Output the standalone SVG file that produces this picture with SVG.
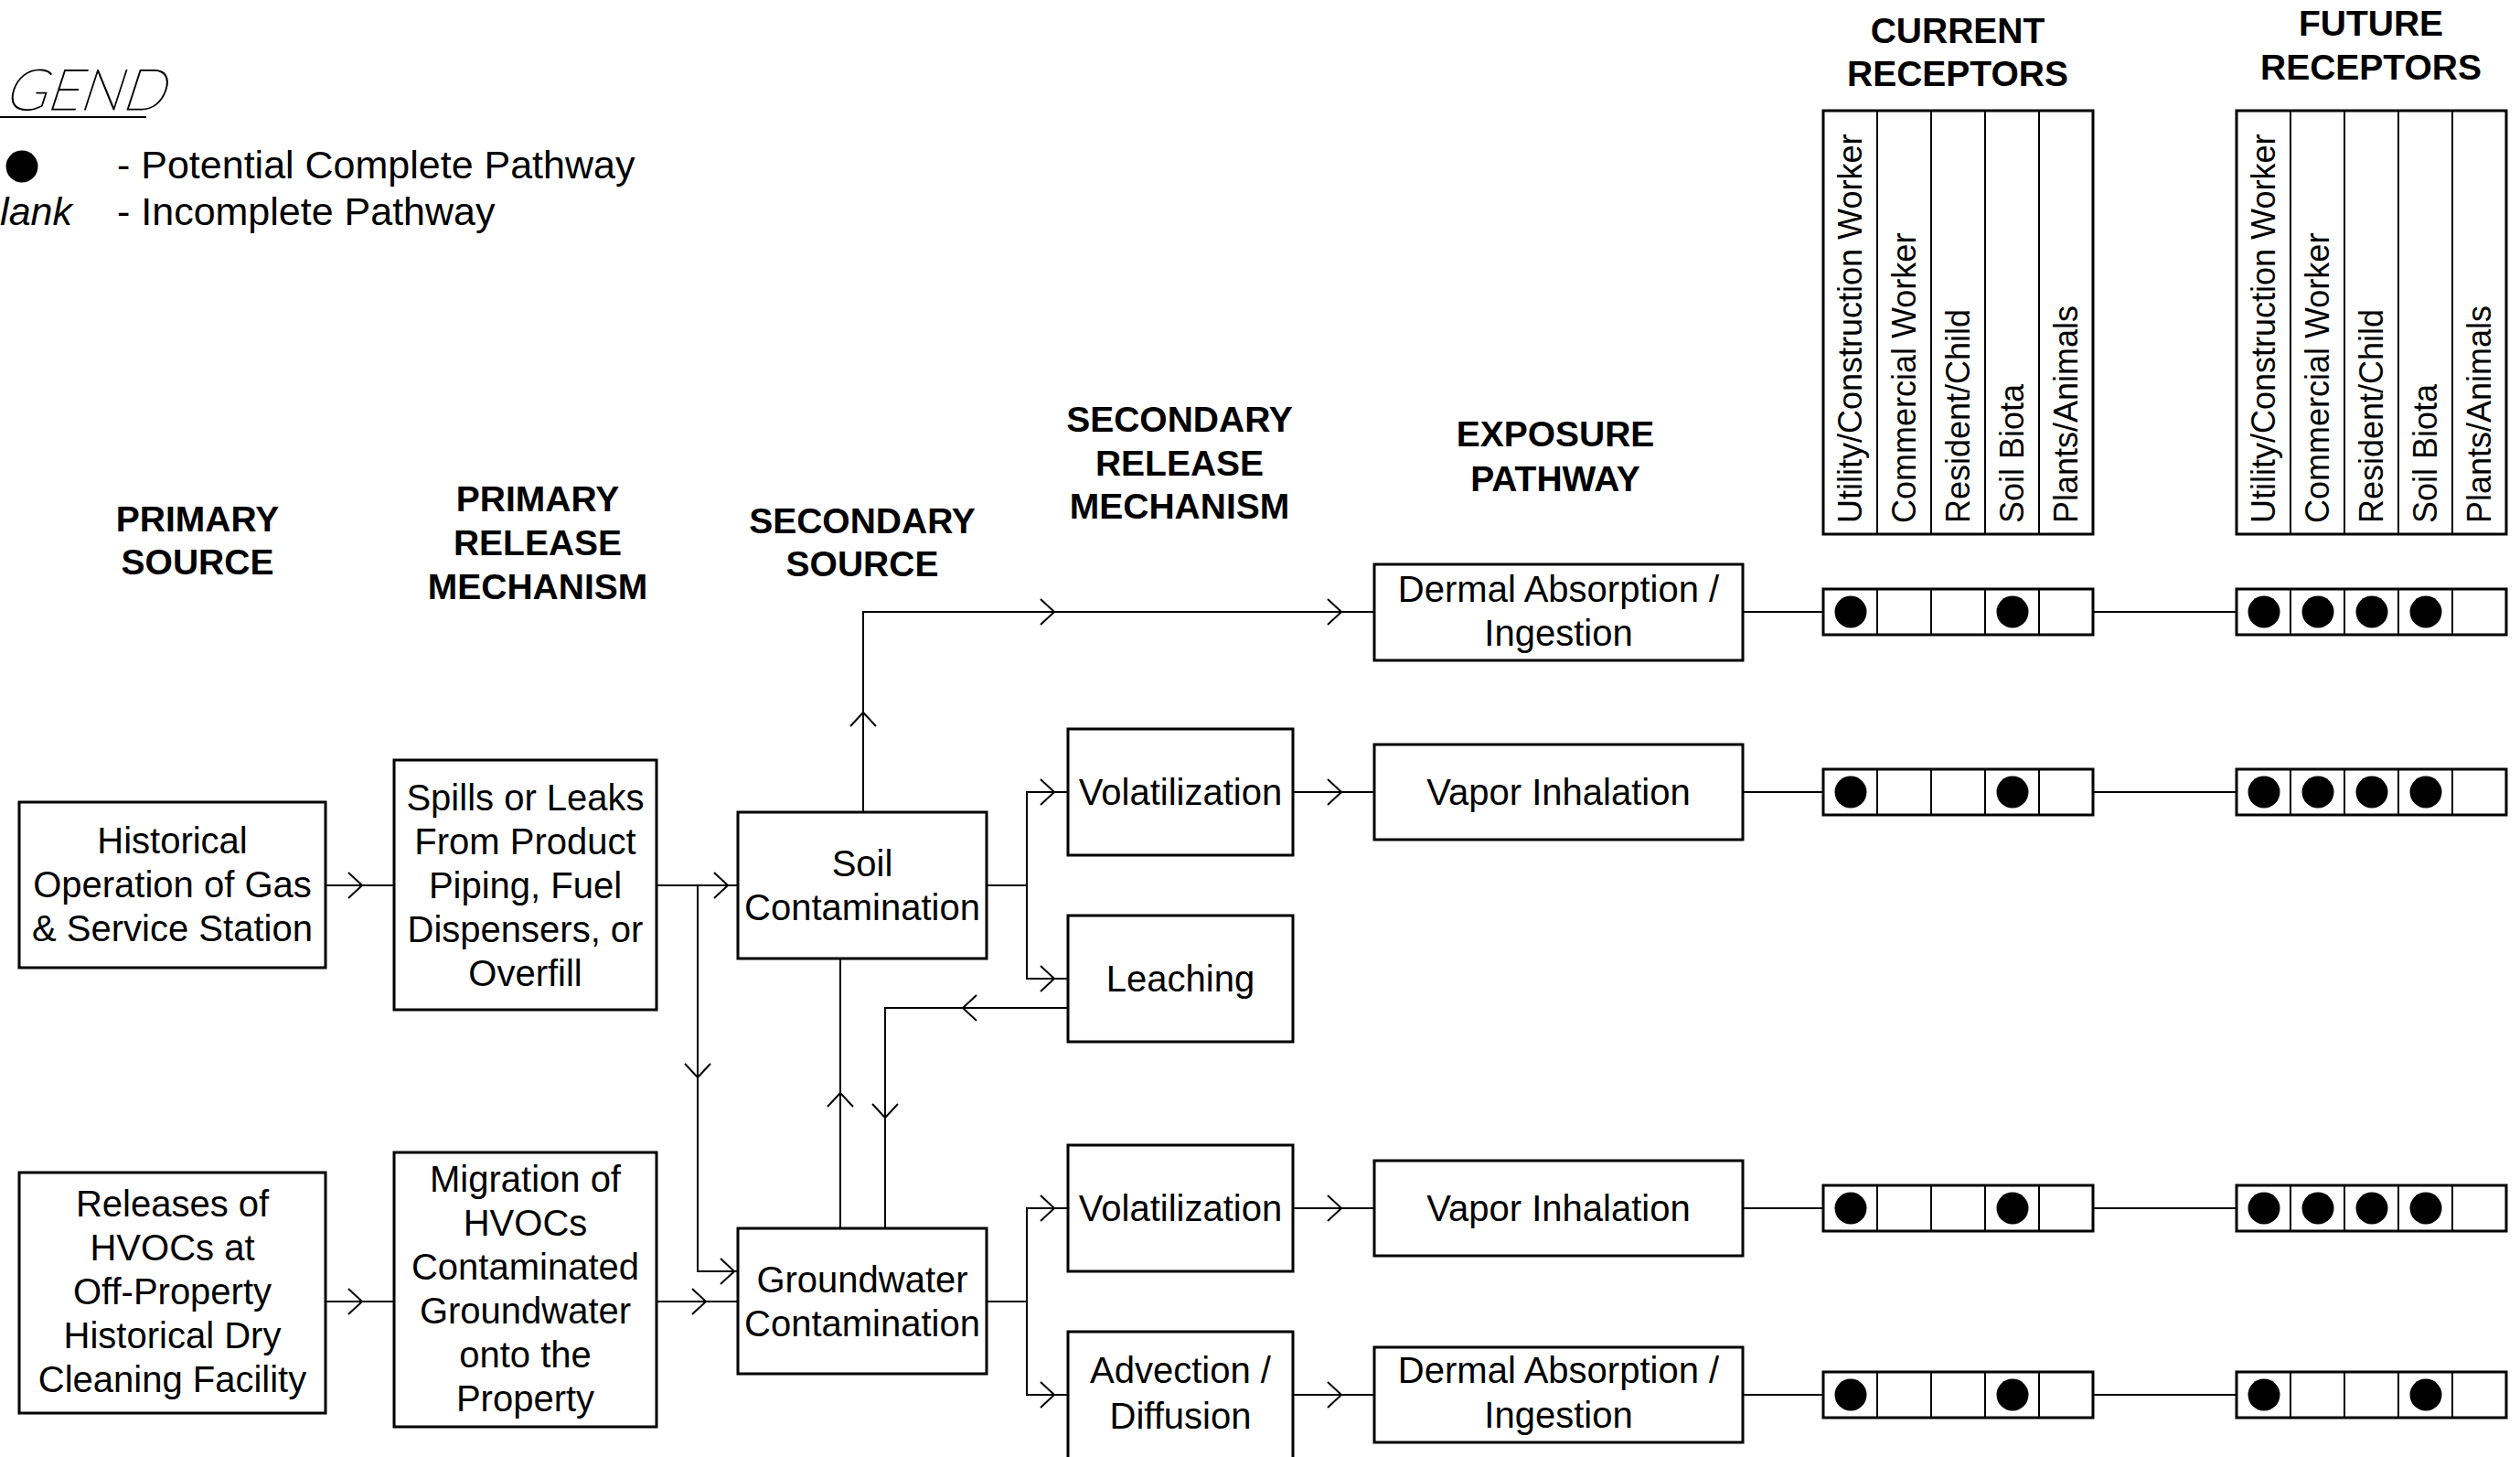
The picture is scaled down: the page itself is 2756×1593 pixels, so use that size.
<svg xmlns="http://www.w3.org/2000/svg" xmlns:xlink="http://www.w3.org/1999/xlink" width="2756" height="1593" viewBox="0 0 2756 1593">
<style>
.box{fill:#fff;stroke:#000;stroke-width:3}
.ln{fill:none;stroke:#000;stroke-width:2}
.rb{fill:#fff;stroke:#000;stroke-width:3}
.dv{stroke:#000;stroke-width:2}
.t{font-family:"Liberation Sans",Arial,sans-serif;font-size:40px;text-anchor:middle;fill:#000}
.h{font-family:"Liberation Sans",Arial,sans-serif;font-size:39px;font-weight:bold;text-anchor:middle;fill:#000}
.r{font-family:"Liberation Sans",Arial,sans-serif;font-size:36px;fill:#000}
.lg{font-family:"Liberation Sans",Arial,sans-serif;font-size:43px;fill:#000}
.dot{fill:#000}
</style>
<defs>
<path id="ch" d="M-15,-14 L0,0 L-15,14" fill="none" stroke="#000" stroke-width="2"/>
</defs>
<rect width="2756" height="1593" fill="#fff"/>

<g id="legend">
<text x="218" y="120" text-anchor="end" transform="skewX(-18)" style="font-family:Lato,Roboto,'DejaVu Sans',sans-serif;font-weight:100;font-size:62px;fill:#000;stroke:#000;stroke-width:1.2">GEND</text>
<line x1="0" y1="128" x2="160" y2="128" stroke="#000" stroke-width="2"/>
<circle class="dot" cx="24" cy="182" r="17.5"/>
<text class="lg" x="79" y="246" text-anchor="end" font-style="italic">lank</text>
<text class="lg" x="128" y="195">- Potential Complete Pathway</text>
<text class="lg" x="128" y="246">- Incomplete Pathway</text>
</g>

<g id="headers">
<text class="h"><tspan x="216" y="581">PRIMARY</tspan><tspan x="216" y="628">SOURCE</tspan></text>
<text class="h"><tspan x="588" y="559">PRIMARY</tspan><tspan x="588" y="607">RELEASE</tspan><tspan x="588" y="655">MECHANISM</tspan></text>
<text class="h"><tspan x="943" y="583">SECONDARY</tspan><tspan x="943" y="630">SOURCE</tspan></text>
<text class="h"><tspan x="1290" y="472">SECONDARY</tspan><tspan x="1290" y="520">RELEASE</tspan><tspan x="1290" y="567">MECHANISM</tspan></text>
<text class="h"><tspan x="1701" y="488">EXPOSURE</tspan><tspan x="1701" y="537">PATHWAY</tspan></text>
<text class="h"><tspan x="2141" y="47">CURRENT</tspan><tspan x="2141" y="94">RECEPTORS</tspan></text>
<text class="h"><tspan x="2593" y="39">FUTURE</tspan><tspan x="2593" y="87">RECEPTORS</tspan></text>
</g>

<g id="connectors">
<path class="ln" d="M356,968 H431"/><use xlink:href="#ch" href="#ch" transform="translate(396,968)"/>
<path class="ln" d="M718,968 H807"/><use xlink:href="#ch" href="#ch" transform="translate(796,968)"/>
<path class="ln" d="M763,968 V1390 H807"/><use xlink:href="#ch" href="#ch" transform="translate(763,1178) rotate(90)"/><use xlink:href="#ch" href="#ch" transform="translate(803,1390)"/>
<path class="ln" d="M356,1423 H431"/><use xlink:href="#ch" href="#ch" transform="translate(396,1423)"/>
<path class="ln" d="M718,1423 H807"/><use xlink:href="#ch" href="#ch" transform="translate(772,1423)"/>
<path class="ln" d="M944,888 V669 H1503"/><use xlink:href="#ch" href="#ch" transform="translate(944,779) rotate(-90)"/><use xlink:href="#ch" href="#ch" transform="translate(1153,669)"/><use xlink:href="#ch" href="#ch" transform="translate(1467,669)"/>
<path class="ln" d="M1079,968 H1123"/><path class="ln" d="M1168,866 H1123 V1070 H1168"/>
<use xlink:href="#ch" href="#ch" transform="translate(1153,866)"/><use xlink:href="#ch" href="#ch" transform="translate(1153,1070)"/>
<path class="ln" d="M1414,866 H1503"/><use xlink:href="#ch" href="#ch" transform="translate(1467,866)"/>
<path class="ln" d="M1168,1102 H968 V1343"/><use xlink:href="#ch" href="#ch" transform="translate(1053,1102) rotate(180)"/><use xlink:href="#ch" href="#ch" transform="translate(968,1222) rotate(90)"/>
<path class="ln" d="M919,1343 V1048"/><use xlink:href="#ch" href="#ch" transform="translate(919,1195) rotate(-90)"/>
<path class="ln" d="M1079,1423 H1123"/><path class="ln" d="M1168,1321 H1123 V1525 H1168"/>
<use xlink:href="#ch" href="#ch" transform="translate(1153,1321)"/><use xlink:href="#ch" href="#ch" transform="translate(1153,1525)"/>
<path class="ln" d="M1414,1321 H1503"/><use xlink:href="#ch" href="#ch" transform="translate(1467,1321)"/>
<path class="ln" d="M1414,1525 H1503"/><use xlink:href="#ch" href="#ch" transform="translate(1467,1525)"/>
<path class="ln" d="M1906,669 H1994 M2289,669 H2446"/>
<path class="ln" d="M1906,866 H1994 M2289,866 H2446"/>
<path class="ln" d="M1906,1321 H1994 M2289,1321 H2446"/>
<path class="ln" d="M1906,1525 H1994 M2289,1525 H2446"/>
</g>

<g id="n-historical"><rect class="box" x="21" y="877" width="335" height="181"/>
<text class="t"><tspan x="188.5" y="933">Historical</tspan><tspan x="188.5" y="981">Operation of Gas</tspan><tspan x="188.5" y="1029">&amp; Service Station</tspan></text></g>
<g id="n-spills"><rect class="box" x="431" y="831" width="287" height="273"/>
<text class="t"><tspan x="574.5" y="886">Spills or Leaks</tspan><tspan x="574.5" y="934">From Product</tspan><tspan x="574.5" y="982">Piping, Fuel</tspan><tspan x="574.5" y="1030">Dispensers, or</tspan><tspan x="574.5" y="1078">Overfill</tspan></text></g>
<g id="n-soil"><rect class="box" x="807" y="888" width="272" height="160"/>
<text class="t"><tspan x="943" y="958">Soil</tspan><tspan x="943" y="1006">Contamination</tspan></text></g>
<g id="n-releases"><rect class="box" x="21" y="1282" width="335" height="263"/>
<text class="t"><tspan x="188.5" y="1330">Releases of</tspan><tspan x="188.5" y="1378">HVOCs at</tspan><tspan x="188.5" y="1426">Off-Property</tspan><tspan x="188.5" y="1474">Historical Dry</tspan><tspan x="188.5" y="1522">Cleaning Facility</tspan></text></g>
<g id="n-migration"><rect class="box" x="431" y="1260" width="287" height="300"/>
<text class="t"><tspan x="574.5" y="1303">Migration of</tspan><tspan x="574.5" y="1351">HVOCs</tspan><tspan x="574.5" y="1399">Contaminated</tspan><tspan x="574.5" y="1447">Groundwater</tspan><tspan x="574.5" y="1495">onto the</tspan><tspan x="574.5" y="1543">Property</tspan></text></g>
<g id="n-gw"><rect class="box" x="807" y="1343" width="272" height="159"/>
<text class="t"><tspan x="943" y="1413">Groundwater</tspan><tspan x="943" y="1461">Contamination</tspan></text></g>
<g id="n-volat1"><rect class="box" x="1168" y="797" width="246" height="138"/>
<text class="t" x="1291" y="880">Volatilization</text></g>
<g id="n-leaching"><rect class="box" x="1168" y="1001" width="246" height="138"/>
<text class="t" x="1291" y="1084">Leaching</text></g>
<g id="n-volat2"><rect class="box" x="1168" y="1252" width="246" height="138"/>
<text class="t" x="1291" y="1335">Volatilization</text></g>
<g id="n-advection"><rect class="box" x="1168" y="1456" width="246" height="200"/>
<text class="t"><tspan x="1291" y="1512">Advection /</tspan><tspan x="1291" y="1562">Diffusion</tspan></text></g>
<g id="n-dermal1"><rect class="box" x="1503" y="617" width="403" height="105"/>
<text class="t"><tspan x="1704.5" y="658">Dermal Absorption /</tspan><tspan x="1704.5" y="706">Ingestion</tspan></text></g>
<g id="n-vapor1"><rect class="box" x="1503" y="814" width="403" height="104"/>
<text class="t" x="1704.5" y="880">Vapor Inhalation</text></g>
<g id="n-vapor2"><rect class="box" x="1503" y="1269" width="403" height="104"/>
<text class="t" x="1704.5" y="1335">Vapor Inhalation</text></g>
<g id="n-dermal2"><rect class="box" x="1503" y="1473" width="403" height="104"/>
<text class="t"><tspan x="1704.5" y="1512">Dermal Absorption /</tspan><tspan x="1704.5" y="1561">Ingestion</tspan></text></g>

<g id="current-receptors">
<rect class="rb" x="1994" y="121" width="295" height="463"/>
<path class="dv" d="M2053,121 V584 M2112,121 V584 M2171,121 V584 M2230,121 V584"/>
<text class="r" transform="translate(2036,572) rotate(-90)">Utility/Construction Worker</text>
<text class="r" transform="translate(2095,572) rotate(-90)">Commercial Worker</text>
<text class="r" transform="translate(2154,572) rotate(-90)">Resident/Child</text>
<text class="r" transform="translate(2213,572) rotate(-90)">Soil Biota</text>
<text class="r" transform="translate(2272,572) rotate(-90)">Plants/Animals</text>
</g>
<g id="future-receptors">
<rect class="rb" x="2446" y="121" width="295" height="463"/>
<path class="dv" d="M2505,121 V584 M2564,121 V584 M2623,121 V584 M2682,121 V584"/>
<text class="r" transform="translate(2488,572) rotate(-90)">Utility/Construction Worker</text>
<text class="r" transform="translate(2547,572) rotate(-90)">Commercial Worker</text>
<text class="r" transform="translate(2606,572) rotate(-90)">Resident/Child</text>
<text class="r" transform="translate(2665,572) rotate(-90)">Soil Biota</text>
<text class="r" transform="translate(2724,572) rotate(-90)">Plants/Animals</text>
</g>

<g id="row1">
<rect class="rb" x="1994" y="644" width="295" height="50"/><path class="dv" d="M2053,644 V694 M2112,644 V694 M2171,644 V694 M2230,644 V694"/>
<circle class="dot" cx="2024" cy="669" r="17.5"/><circle class="dot" cx="2201" cy="669" r="17.5"/>
<rect class="rb" x="2446" y="644" width="295" height="50"/><path class="dv" d="M2505,644 V694 M2564,644 V694 M2623,644 V694 M2682,644 V694"/>
<circle class="dot" cx="2476" cy="669" r="17.5"/><circle class="dot" cx="2535" cy="669" r="17.5"/><circle class="dot" cx="2594" cy="669" r="17.5"/><circle class="dot" cx="2653" cy="669" r="17.5"/>
</g>
<g id="row2">
<rect class="rb" x="1994" y="841" width="295" height="50"/><path class="dv" d="M2053,841 V891 M2112,841 V891 M2171,841 V891 M2230,841 V891"/>
<circle class="dot" cx="2024" cy="866" r="17.5"/><circle class="dot" cx="2201" cy="866" r="17.5"/>
<rect class="rb" x="2446" y="841" width="295" height="50"/><path class="dv" d="M2505,841 V891 M2564,841 V891 M2623,841 V891 M2682,841 V891"/>
<circle class="dot" cx="2476" cy="866" r="17.5"/><circle class="dot" cx="2535" cy="866" r="17.5"/><circle class="dot" cx="2594" cy="866" r="17.5"/><circle class="dot" cx="2653" cy="866" r="17.5"/>
</g>
<g id="row3">
<rect class="rb" x="1994" y="1296" width="295" height="50"/><path class="dv" d="M2053,1296 V1346 M2112,1296 V1346 M2171,1296 V1346 M2230,1296 V1346"/>
<circle class="dot" cx="2024" cy="1321" r="17.5"/><circle class="dot" cx="2201" cy="1321" r="17.5"/>
<rect class="rb" x="2446" y="1296" width="295" height="50"/><path class="dv" d="M2505,1296 V1346 M2564,1296 V1346 M2623,1296 V1346 M2682,1296 V1346"/>
<circle class="dot" cx="2476" cy="1321" r="17.5"/><circle class="dot" cx="2535" cy="1321" r="17.5"/><circle class="dot" cx="2594" cy="1321" r="17.5"/><circle class="dot" cx="2653" cy="1321" r="17.5"/>
</g>
<g id="row4">
<rect class="rb" x="1994" y="1500" width="295" height="50"/><path class="dv" d="M2053,1500 V1550 M2112,1500 V1550 M2171,1500 V1550 M2230,1500 V1550"/>
<circle class="dot" cx="2024" cy="1525" r="17.5"/><circle class="dot" cx="2201" cy="1525" r="17.5"/>
<rect class="rb" x="2446" y="1500" width="295" height="50"/><path class="dv" d="M2505,1500 V1550 M2564,1500 V1550 M2623,1500 V1550 M2682,1500 V1550"/>
<circle class="dot" cx="2476" cy="1525" r="17.5"/><circle class="dot" cx="2653" cy="1525" r="17.5"/>
</g>
</svg>
